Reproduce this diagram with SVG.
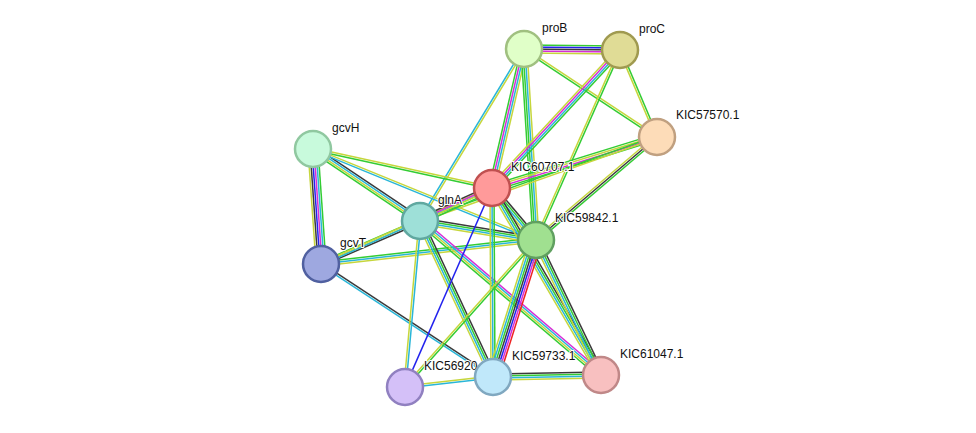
<svg xmlns="http://www.w3.org/2000/svg" width="976" height="433" viewBox="0 0 976 433">
<style>
line{stroke-width:1.5}
.g{stroke:#33cc33}.y{stroke:#c6d63c}.c{stroke:#29b6d8}.m{stroke:#d62ed6}.k{stroke:#3a3a3a}.b{stroke:#2222ee}.r{stroke:#ee2222}
circle{stroke-width:2.5}
text{font-family:"Liberation Sans",Arial,sans-serif;font-size:12px;fill:#111;paint-order:stroke;stroke:#fff;stroke-width:2px}
</style>
<rect width="976" height="433" fill="#fff"/>
<g id="edges">
<g transform="translate(524,49) rotate(0.6)"><line class="g" x2="96" y1="-4" y2="-4"/><line class="b" x2="96" y1="-2" y2="-2"/><line class="k" x2="96"/><line class="m" x2="96" y1="2" y2="2"/><line class="y" x2="96" y1="4" y2="4"/></g>
<g transform="translate(524,49) rotate(103)"><line class="y" x2="143" y1="-3" y2="-3"/><line class="c" x2="143" y1="-1" y2="-1"/><line class="m" x2="143" y1="1" y2="1"/><line class="g" x2="143" y1="3" y2="3"/></g>
<g transform="translate(524,49) rotate(86.4)"><line class="y" x2="191" y1="-3" y2="-3"/><line class="c" x2="191" y1="-1" y2="-1"/><line class="g" x2="191" y1="1" y2="1"/><line class="g" x2="191" y1="3" y2="3"/></g>
<g transform="translate(524,49) rotate(33.5)"><line class="y" x2="160" y1="-1" y2="-1"/><line class="g" x2="160" y1="1" y2="1"/></g>
<g transform="translate(524,49) rotate(121.2)"><line class="y" x2="201" y1="-1" y2="-1"/><line class="c" x2="201" y1="1" y2="1"/></g>
<g transform="translate(620,50) rotate(132.8)"><line class="g" x2="188" y1="-3" y2="-3"/><line class="c" x2="188" y1="-1" y2="-1"/><line class="m" x2="188" y1="1" y2="1"/><line class="y" x2="188" y1="3" y2="3"/></g>
<g transform="translate(620,50) rotate(113.9)"><line class="g" x2="208" y1="-1" y2="-1"/><line class="y" x2="208" y1="1" y2="1"/></g>
<g transform="translate(620,50) rotate(67)"><line class="g" x2="95" y1="-1" y2="-1"/><line class="y" x2="95" y1="1" y2="1"/></g>
<g transform="translate(657,137) rotate(162.8)"><line class="g" x2="173" y1="-3" y2="-3"/><line class="m" x2="173" y1="-1" y2="-1"/><line class="y" x2="173" y1="1" y2="1"/><line class="g" x2="173" y1="3" y2="3"/></g>
<g transform="translate(657,137) rotate(139.6)"><line class="g" x2="159" y1="-2" y2="-2"/><line class="k" x2="159"/><line class="y" x2="159" y1="2" y2="2"/></g>
<g transform="translate(657,137) rotate(160.5)"><line class="y" x2="251" y1="-1" y2="-1"/><line class="g" x2="251" y1="1" y2="1"/></g>
<g transform="translate(313,149) rotate(86)"><line class="g" x2="115" y1="-5" y2="-5"/><line class="c" x2="115" y1="-3" y2="-3"/><line class="m" x2="115" y1="-1" y2="-1"/><line class="b" x2="115" y1="1" y2="1"/><line class="k" x2="115" y1="3" y2="3"/><line class="y" x2="115" y1="5" y2="5"/></g>
<g transform="translate(313,149) rotate(33.9)"><line class="k" x2="129" y1="-3" y2="-3"/><line class="c" x2="129" y1="-1" y2="-1"/><line class="y" x2="129" y1="1" y2="1"/><line class="g" x2="129" y1="3" y2="3"/></g>
<g transform="translate(313,149) rotate(12.3)"><line class="y" x2="183" y1="-1" y2="-1"/><line class="g" x2="183" y1="1" y2="1"/></g>
<g transform="translate(313,149) rotate(22.2)"><line class="y" x2="241" y1="-1" y2="-1"/><line class="c" x2="241" y1="1" y2="1"/></g>
<g transform="translate(321,264) rotate(-23.5)"><line class="g" x2="108" y1="-2" y2="-2"/><line class="y" x2="108"/><line class="k" x2="108" y1="2" y2="2"/></g>
<g transform="translate(321,264) rotate(-24)"><line class="y" x2="187" y1="-1" y2="-1"/><line class="c" x2="187" y1="1" y2="1"/></g>
<g transform="translate(321,264) rotate(-6.4)"><line class="g" x2="216" y1="-2" y2="-2"/><line class="c" x2="216"/><line class="y" x2="216" y1="2" y2="2"/></g>
<g transform="translate(321,264) rotate(33.3)"><line class="k" x2="206" y1="-1" y2="-1"/><line class="c" x2="206" y1="1" y2="1"/></g>
<g transform="translate(420,221) rotate(-24.6)"><line class="k" x2="79" y1="-3" y2="-3"/><line class="m" x2="79" y1="-1" y2="-1"/><line class="y" x2="79" y1="1" y2="1"/><line class="g" x2="79" y1="3" y2="3"/></g>
<g transform="translate(420,221) rotate(9.3)"><line class="k" x2="118" y1="-3" y2="-3"/><line class="g" x2="118" y1="-1" y2="-1"/><line class="c" x2="118" y1="1" y2="1"/><line class="y" x2="118" y1="3" y2="3"/></g>
<g transform="translate(420,221) rotate(64.9)"><line class="k" x2="172" y1="-3" y2="-3"/><line class="g" x2="172" y1="-1" y2="-1"/><line class="c" x2="172" y1="1" y2="1"/><line class="y" x2="172" y1="3" y2="3"/></g>
<g transform="translate(420,221) rotate(95.2)"><line class="c" x2="167" y1="-1" y2="-1"/><line class="y" x2="167" y1="1" y2="1"/></g>
<g transform="translate(420,221) rotate(40.4)"><line class="m" x2="238" y1="-3" y2="-3"/><line class="c" x2="238" y1="-1" y2="-1"/><line class="y" x2="238" y1="1" y2="1"/><line class="g" x2="238" y1="3" y2="3"/></g>
<g transform="translate(492,188) rotate(49.8)"><line class="k" x2="68" y1="-3" y2="-3"/><line class="g" x2="68" y1="-1" y2="-1"/><line class="c" x2="68" y1="1" y2="1"/><line class="y" x2="68" y1="3" y2="3"/></g>
<g transform="translate(492,188) rotate(89.7)"><line class="g" x2="189" y1="-2" y2="-2"/><line class="c" x2="189"/><line class="y" x2="189" y1="2" y2="2"/></g>
<g transform="translate(492,188) rotate(113.6)"><line class="b" x2="217"/></g>
<g transform="translate(492,188) rotate(59.8)"><line class="k" x2="216" y1="-3" y2="-3"/><line class="g" x2="216" y1="-1" y2="-1"/><line class="c" x2="216" y1="1" y2="1"/><line class="y" x2="216" y1="3" y2="3"/></g>
<g transform="translate(536,240) rotate(107.4)"><line class="r" x2="144" y1="-6" y2="-6"/><line class="m" x2="144" y1="-4" y2="-4"/><line class="b" x2="144" y1="-2" y2="-2"/><line class="k" x2="144"/><line class="g" x2="144" y1="2" y2="2"/><line class="c" x2="144" y1="4" y2="4"/><line class="y" x2="144" y1="6" y2="6"/></g>
<g transform="translate(536,240) rotate(64.3)"><line class="k" x2="150" y1="-3" y2="-3"/><line class="g" x2="150" y1="-1" y2="-1"/><line class="c" x2="150" y1="1" y2="1"/><line class="y" x2="150" y1="3" y2="3"/></g>
<g transform="translate(536,240) rotate(131.7)"><line class="g" x2="197" y1="-1" y2="-1"/><line class="y" x2="197" y1="1" y2="1"/></g>
<g transform="translate(493,377) rotate(-1.1)"><line class="k" x2="108" y1="-3" y2="-3"/><line class="g" x2="108" y1="-1" y2="-1"/><line class="c" x2="108" y1="1" y2="1"/><line class="y" x2="108" y1="3" y2="3"/></g>
<g transform="translate(493,377) rotate(173.5)"><line class="c" x2="89" y1="-1" y2="-1"/><line class="y" x2="89" y1="1" y2="1"/></g>
</g>
<g id="proB"><circle cx="524" cy="49" r="18" fill="#e0ffc8" stroke="#a0c080"/><text x="542" y="32">proB</text></g>
<g id="proC"><circle cx="620" cy="50" r="18" fill="#e0dc96" stroke="#a09a50"/><text x="639" y="33">proC</text></g>
<g id="KIC57570.1"><circle cx="657" cy="137" r="18" fill="#fddcb8" stroke="#c0a080"/><text x="676" y="119">KIC57570.1</text></g>
<g id="gcvH"><circle cx="313" cy="149" r="18" fill="#c8fadc" stroke="#90c8a0"/><text x="332" y="132">gcvH</text></g>
<g id="KIC60707.1"><circle cx="492" cy="188" r="18" fill="#ff9a9a" stroke="#c05050"/><text x="511" y="171">KIC60707.1</text></g>
<g id="glnA"><circle cx="420" cy="221" r="18" fill="#9ee0d8" stroke="#60a8a0"/><text x="438" y="204">glnA</text></g>
<g id="KIC59842.1"><circle cx="536" cy="240" r="18" fill="#a0e090" stroke="#60a060"/><text x="555" y="222">KIC59842.1</text></g>
<g id="gcvT"><circle cx="321" cy="264" r="18" fill="#9ea8e0" stroke="#5060a0"/><text x="340" y="247">gcvT</text></g>
<g id="KIC56920.1"><circle cx="405" cy="387" r="18" fill="#d4c0f8" stroke="#9080c0"/><text x="424" y="370">KIC56920.1</text></g>
<g id="KIC59733.1"><circle cx="493" cy="377" r="18" fill="#c0e8fa" stroke="#80a8c0"/><text x="512" y="360">KIC59733.1</text></g>
<g id="KIC61047.1"><circle cx="601" cy="375" r="18" fill="#f8c0c0" stroke="#c08888"/><text x="620" y="358">KIC61047.1</text></g>
</svg>
